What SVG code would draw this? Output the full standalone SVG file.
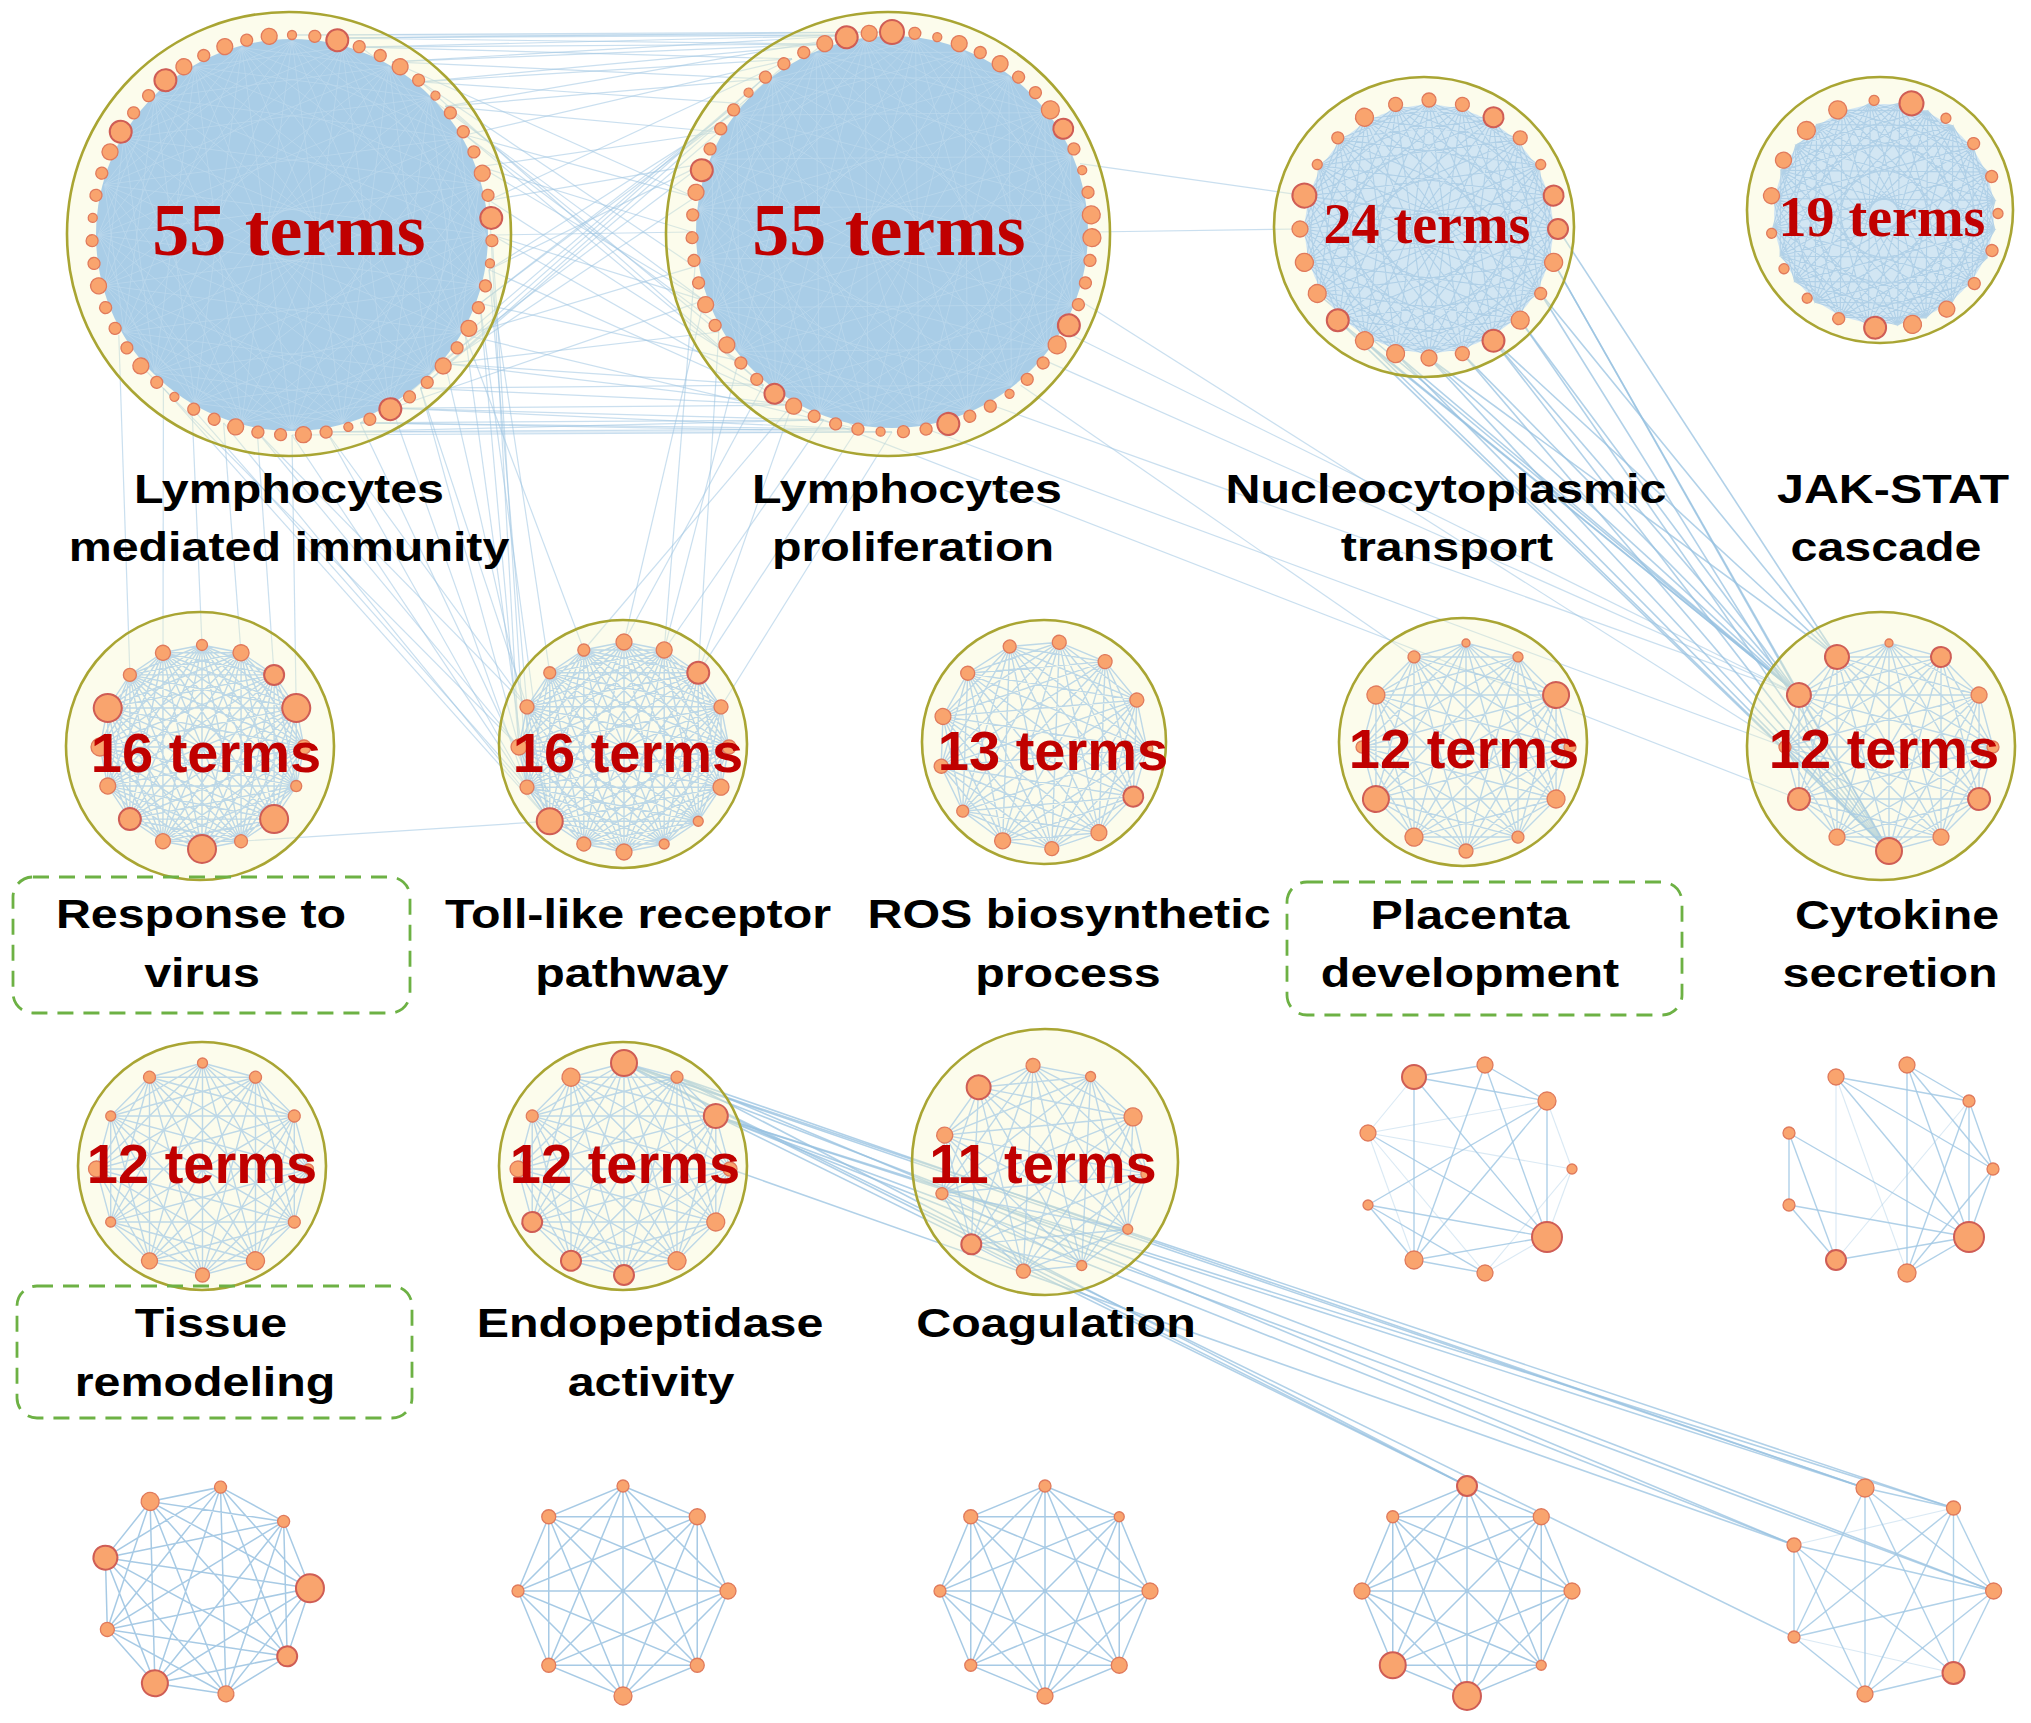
<svg xmlns="http://www.w3.org/2000/svg" xmlns:xlink="http://www.w3.org/1999/xlink" width="2031" height="1723" viewBox="0 0 2031 1723">
<style>
.enc{fill:#f7f7c8;fill-opacity:.35;stroke:#a9a533;stroke-width:2.6}
.ed{stroke:#a3c9e5;stroke-width:1.4;opacity:.7}
.edr{stroke:#92bedf;stroke-width:1.5;opacity:.8}
.mesh{stroke:#c9e1f1;stroke-width:.8;opacity:.55}
.mesh2{stroke:#a8cbe5;stroke-width:1.1;opacity:.8}
.n{fill:#f9a46e;stroke:#e07a5c;stroke-width:1.3}
.nb{fill:#f9a46e;stroke:#cf5d55;stroke-width:2}
.lbl{font-family:"Liberation Sans",Arial,sans-serif;font-weight:bold;font-size:41px;fill:#000;text-anchor:middle}
.tr{font-family:"Liberation Serif","Times New Roman",serif;font-weight:bold;fill:#c00000;text-anchor:middle}
.ta{font-family:"Liberation Sans",Arial,sans-serif;font-weight:bold;font-size:56px;fill:#c00000;text-anchor:middle}
.box{fill:none;stroke:#6db144;stroke-width:2.8;stroke-dasharray:16 10}
.c1 line{stroke:#9fc6e3;stroke-width:1.2;opacity:.55}
.c2 line{stroke:#98c2e1;stroke-width:1.6;opacity:.75}
.le line{stroke:#a3c9e5;stroke-width:1.4;opacity:.85}
.lf line{stroke:#a3c9e5;stroke-width:1.1;opacity:.4}
</style>
<defs>
<path id="k16" fill="none" vector-effect="non-scaling-stroke" d="M0,-100 L38.3,-92.4 L70.7,-70.7 L92.4,-38.3 L100,0 L92.4,38.3 L70.7,70.7 L38.3,92.4 L0,100 L-38.3,92.4 L-70.7,70.7 L-92.4,38.3 L-100,0 L-92.4,-38.3 L-70.7,-70.7 L-38.3,-92.4 Z M0,-100 L70.7,-70.7 L100,0 L70.7,70.7 L0,100 L-70.7,70.7 L-100,0 L-70.7,-70.7 Z M38.3,-92.4 L92.4,-38.3 L92.4,38.3 L38.3,92.4 L-38.3,92.4 L-92.4,38.3 L-92.4,-38.3 L-38.3,-92.4 Z M0,-100 L92.4,-38.3 L70.7,70.7 L-38.3,92.4 L-100,0 L-38.3,-92.4 L70.7,-70.7 L92.4,38.3 L0,100 L-92.4,38.3 L-70.7,-70.7 L38.3,-92.4 L100,0 L38.3,92.4 L-70.7,70.7 L-92.4,-38.3 Z M0,-100 L100,0 L0,100 L-100,0 Z M38.3,-92.4 L92.4,38.3 L-38.3,92.4 L-92.4,-38.3 Z M70.7,-70.7 L70.7,70.7 L-70.7,70.7 L-70.7,-70.7 Z M92.4,-38.3 L38.3,92.4 L-92.4,38.3 L-38.3,-92.4 Z M0,-100 L92.4,38.3 L-70.7,70.7 L-38.3,-92.4 L100,0 L-38.3,92.4 L-70.7,-70.7 L92.4,-38.3 L0,100 L-92.4,-38.3 L70.7,-70.7 L38.3,92.4 L-100,0 L38.3,-92.4 L70.7,70.7 L-92.4,38.3 Z M0,-100 L70.7,70.7 L-100,0 L70.7,-70.7 L0,100 L-70.7,-70.7 L100,0 L-70.7,70.7 Z M38.3,-92.4 L38.3,92.4 L-92.4,-38.3 L92.4,-38.3 L-38.3,92.4 L-38.3,-92.4 L92.4,38.3 L-92.4,38.3 Z M0,-100 L38.3,92.4 L-70.7,-70.7 L92.4,38.3 L-100,0 L92.4,-38.3 L-70.7,70.7 L38.3,-92.4 L0,100 L-38.3,-92.4 L70.7,70.7 L-92.4,-38.3 L100,0 L-92.4,38.3 L70.7,-70.7 L-38.3,92.4 Z M0,-100 L0,100 M38.3,-92.4 L-38.3,92.4 M70.7,-70.7 L-70.7,70.7 M92.4,-38.3 L-92.4,38.3 M100,0 L-100,0 M92.4,38.3 L-92.4,-38.3 M70.7,70.7 L-70.7,-70.7 M38.3,92.4 L-38.3,-92.4"/>
<path id="k13" fill="none" vector-effect="non-scaling-stroke" d="M0,-100 L46.5,-88.5 L82.3,-56.8 L99.3,-12.1 L93.5,35.5 L66.3,74.9 L23.9,97.1 L-23.9,97.1 L-66.3,74.9 L-93.5,35.5 L-99.3,-12.1 L-82.3,-56.8 L-46.5,-88.5 Z M0,-100 L82.3,-56.8 L93.5,35.5 L23.9,97.1 L-66.3,74.9 L-99.3,-12.1 L-46.5,-88.5 L46.5,-88.5 L99.3,-12.1 L66.3,74.9 L-23.9,97.1 L-93.5,35.5 L-82.3,-56.8 Z M0,-100 L99.3,-12.1 L23.9,97.1 L-93.5,35.5 L-46.5,-88.5 L82.3,-56.8 L66.3,74.9 L-66.3,74.9 L-82.3,-56.8 L46.5,-88.5 L93.5,35.5 L-23.9,97.1 L-99.3,-12.1 Z M0,-100 L93.5,35.5 L-66.3,74.9 L-46.5,-88.5 L99.3,-12.1 L-23.9,97.1 L-82.3,-56.8 L82.3,-56.8 L23.9,97.1 L-99.3,-12.1 L46.5,-88.5 L66.3,74.9 L-93.5,35.5 Z M0,-100 L66.3,74.9 L-99.3,-12.1 L82.3,-56.8 L-23.9,97.1 L-46.5,-88.5 L93.5,35.5 L-93.5,35.5 L46.5,-88.5 L23.9,97.1 L-82.3,-56.8 L99.3,-12.1 L-66.3,74.9 Z M0,-100 L23.9,97.1 L-46.5,-88.5 L66.3,74.9 L-82.3,-56.8 L93.5,35.5 L-99.3,-12.1 L99.3,-12.1 L-93.5,35.5 L82.3,-56.8 L-66.3,74.9 L46.5,-88.5 L-23.9,97.1 Z"/>
<path id="k12" fill="none" vector-effect="non-scaling-stroke" d="M0,-100 L50,-86.6 L86.6,-50 L100,0 L86.6,50 L50,86.6 L0,100 L-50,86.6 L-86.6,50 L-100,0 L-86.6,-50 L-50,-86.6 Z M0,-100 L86.6,-50 L86.6,50 L0,100 L-86.6,50 L-86.6,-50 Z M50,-86.6 L100,0 L50,86.6 L-50,86.6 L-100,0 L-50,-86.6 Z M0,-100 L100,0 L0,100 L-100,0 Z M50,-86.6 L86.6,50 L-50,86.6 L-86.6,-50 Z M86.6,-50 L50,86.6 L-86.6,50 L-50,-86.6 Z M0,-100 L86.6,50 L-86.6,50 Z M50,-86.6 L50,86.6 L-100,0 Z M86.6,-50 L0,100 L-86.6,-50 Z M100,0 L-50,86.6 L-50,-86.6 Z M0,-100 L50,86.6 L-86.6,-50 L100,0 L-86.6,50 L50,-86.6 L0,100 L-50,-86.6 L86.6,50 L-100,0 L86.6,-50 L-50,86.6 Z M0,-100 L0,100 M50,-86.6 L-50,86.6 M86.6,-50 L-86.6,50 M100,0 L-100,0 M86.6,50 L-86.6,-50 M50,86.6 L-50,-86.6"/>
<path id="k11" fill="none" vector-effect="non-scaling-stroke" d="M0,-100 L54.1,-84.1 L91,-41.5 L99,14.2 L75.6,65.5 L28.2,96 L-28.2,96 L-75.6,65.5 L-99,14.2 L-91,-41.5 L-54.1,-84.1 Z M0,-100 L91,-41.5 L75.6,65.5 L-28.2,96 L-99,14.2 L-54.1,-84.1 L54.1,-84.1 L99,14.2 L28.2,96 L-75.6,65.5 L-91,-41.5 Z M0,-100 L99,14.2 L-28.2,96 L-91,-41.5 L54.1,-84.1 L75.6,65.5 L-75.6,65.5 L-54.1,-84.1 L91,-41.5 L28.2,96 L-99,14.2 Z M0,-100 L75.6,65.5 L-99,14.2 L54.1,-84.1 L28.2,96 L-91,-41.5 L91,-41.5 L-28.2,96 L-54.1,-84.1 L99,14.2 L-75.6,65.5 Z M0,-100 L28.2,96 L-54.1,-84.1 L75.6,65.5 L-91,-41.5 L99,14.2 L-99,14.2 L91,-41.5 L-75.6,65.5 L54.1,-84.1 L-28.2,96 Z"/>
<path id="k9" fill="none" vector-effect="non-scaling-stroke" d="M0,-100 L64.3,-76.6 L98.5,-17.4 L86.6,50 L34.2,94 L-34.2,94 L-86.6,50 L-98.5,-17.4 L-64.3,-76.6 Z M0,-100 L98.5,-17.4 L34.2,94 L-86.6,50 L-64.3,-76.6 L64.3,-76.6 L86.6,50 L-34.2,94 L-98.5,-17.4 Z M0,-100 L86.6,50 L-86.6,50 Z M64.3,-76.6 L34.2,94 L-98.5,-17.4 Z M98.5,-17.4 L-34.2,94 L-64.3,-76.6 Z M0,-100 L34.2,94 L-64.3,-76.6 L86.6,50 L-98.5,-17.4 L98.5,-17.4 L-86.6,50 L64.3,-76.6 L-34.2,94 Z"/>
<path id="k8" fill="none" vector-effect="non-scaling-stroke" d="M0,-100 L70.7,-70.7 L100,0 L70.7,70.7 L0,100 L-70.7,70.7 L-100,0 L-70.7,-70.7 Z M0,-100 L100,0 L0,100 L-100,0 Z M70.7,-70.7 L70.7,70.7 L-70.7,70.7 L-70.7,-70.7 Z M0,-100 L70.7,70.7 L-100,0 L70.7,-70.7 L0,100 L-70.7,-70.7 L100,0 L-70.7,70.7 Z M0,-100 L0,100 M70.7,-70.7 L-70.7,70.7 M100,0 L-100,0 M70.7,70.7 L-70.7,-70.7"/>
<path id="m24" fill="none" vector-effect="non-scaling-stroke" d="M0,-100 L70.7,-70.7 L100,0 L70.7,70.7 L0,100 L-70.7,70.7 L-100,0 L-70.7,-70.7 Z M25.9,-96.6 L86.6,-50 L96.6,25.9 L50,86.6 L-25.9,96.6 L-86.6,50 L-96.6,-25.9 L-50,-86.6 Z M50,-86.6 L96.6,-25.9 L86.6,50 L25.9,96.6 L-50,86.6 L-96.6,25.9 L-86.6,-50 L-25.9,-96.6 Z M0,-100 L96.6,-25.9 L50,86.6 L-70.7,70.7 L-86.6,-50 L25.9,-96.6 L100,0 L25.9,96.6 L-86.6,50 L-70.7,-70.7 L50,-86.6 L96.6,25.9 L0,100 L-96.6,25.9 L-50,-86.6 L70.7,-70.7 L86.6,50 L-25.9,96.6 L-100,0 L-25.9,-96.6 L86.6,-50 L70.7,70.7 L-50,86.6 L-96.6,-25.9 Z M0,-100 L96.6,25.9 L-50,86.6 L-70.7,-70.7 L86.6,-50 L25.9,96.6 L-100,0 L25.9,-96.6 L86.6,50 L-70.7,70.7 L-50,-86.6 L96.6,-25.9 L0,100 L-96.6,-25.9 L50,-86.6 L70.7,70.7 L-86.6,50 L-25.9,-96.6 L100,0 L-25.9,96.6 L-86.6,-50 L70.7,-70.7 L50,86.6 L-96.6,25.9 Z M0,-100 L70.7,70.7 L-100,0 L70.7,-70.7 L0,100 L-70.7,-70.7 L100,0 L-70.7,70.7 Z M25.9,-96.6 L50,86.6 L-96.6,-25.9 L86.6,-50 L-25.9,96.6 L-50,-86.6 L96.6,25.9 L-86.6,50 Z M50,-86.6 L25.9,96.6 L-86.6,-50 L96.6,-25.9 L-50,86.6 L-25.9,-96.6 L86.6,50 L-96.6,25.9 Z M0,-100 L25.9,96.6 L-50,-86.6 L70.7,70.7 L-86.6,-50 L96.6,25.9 L-100,0 L96.6,-25.9 L-86.6,50 L70.7,-70.7 L-50,86.6 L25.9,-96.6 L0,100 L-25.9,-96.6 L50,86.6 L-70.7,-70.7 L86.6,50 L-96.6,-25.9 L100,0 L-96.6,25.9 L86.6,-50 L-70.7,70.7 L50,-86.6 L-25.9,96.6 Z"/>
</defs>
<rect width="2031" height="1723" fill="#ffffff"/>

<g id="connectors">
<g class="c1">
<line x1="292" y1="35" x2="892" y2="32"/><line x1="326.7" y1="38" x2="857.3" y2="35"/><line x1="326.7" y1="38" x2="823.6" y2="44.1"/><line x1="360.4" y1="47.1" x2="857.3" y2="35"/><line x1="360.4" y1="47.1" x2="792" y2="58.8"/><line x1="392" y1="61.8" x2="823.6" y2="44.1"/><line x1="392" y1="61.8" x2="763.4" y2="78.8"/><line x1="420.6" y1="81.8" x2="792" y2="58.8"/><line x1="292" y1="35" x2="857.3" y2="35"/><line x1="326.7" y1="38" x2="892" y2="32"/><line x1="360.4" y1="47.1" x2="823.6" y2="44.1"/><line x1="392" y1="61.8" x2="857.3" y2="35"/><line x1="420.6" y1="81.8" x2="823.6" y2="44.1"/><line x1="445.2" y1="106.4" x2="763.4" y2="78.8"/><line x1="420.6" y1="81.8" x2="738.8" y2="103.4"/>
<line x1="445.2" y1="106.4" x2="718.8" y2="132"/><line x1="465.2" y1="135" x2="695" y2="197.3"/><line x1="479.9" y1="166.6" x2="704.1" y2="300.4"/><line x1="489" y1="200.3" x2="738.8" y2="360.6"/><line x1="492" y1="235" x2="692" y2="232"/><line x1="489" y1="269.7" x2="704.1" y2="163.6"/><line x1="479.9" y1="303.4" x2="738.8" y2="103.4"/><line x1="465.2" y1="335" x2="695" y2="266.7"/><line x1="445.2" y1="363.6" x2="718.8" y2="332"/><line x1="420.6" y1="388.2" x2="718.8" y2="132"/><line x1="465.2" y1="135" x2="763.4" y2="385.2"/><line x1="445.2" y1="106.4" x2="718.8" y2="332"/><line x1="420.6" y1="81.8" x2="695" y2="266.7"/><line x1="392" y1="61.8" x2="695" y2="197.3"/><line x1="465.2" y1="335" x2="763.4" y2="78.8"/><line x1="479.9" y1="303.4" x2="823.6" y2="44.1"/><line x1="489" y1="269.7" x2="823.6" y2="419.9"/><line x1="492" y1="235" x2="792" y2="405.2"/><line x1="489" y1="200.3" x2="792" y2="58.8"/><line x1="479.9" y1="166.6" x2="718.8" y2="132"/><line x1="445.2" y1="363.6" x2="695" y2="197.3"/><line x1="392" y1="408.2" x2="704.1" y2="300.4"/><line x1="360.4" y1="422.9" x2="704.1" y2="163.6"/><line x1="360.4" y1="47.1" x2="704.1" y2="300.4"/><line x1="420.6" y1="388.2" x2="792" y2="58.8"/><line x1="489" y1="269.7" x2="857.3" y2="35"/><line x1="465.2" y1="135" x2="857.3" y2="429"/><line x1="420.6" y1="81.8" x2="763.4" y2="385.2"/><line x1="392" y1="408.2" x2="763.4" y2="78.8"/><line x1="479.9" y1="166.6" x2="692" y2="232"/><line x1="489" y1="200.3" x2="704.1" y2="163.6"/><line x1="492" y1="235" x2="704.1" y2="300.4"/><line x1="479.9" y1="303.4" x2="738.8" y2="360.6"/><line x1="445.2" y1="363.6" x2="792" y2="405.2"/><line x1="465.2" y1="135" x2="792" y2="58.8"/><line x1="445.2" y1="106.4" x2="857.3" y2="35"/><line x1="465.2" y1="335" x2="857.3" y2="429"/>
<line x1="326.7" y1="432" x2="857.3" y2="429"/><line x1="360.4" y1="422.9" x2="823.6" y2="419.9"/><line x1="392" y1="408.2" x2="857.3" y2="429"/><line x1="326.7" y1="432" x2="823.6" y2="419.9"/><line x1="420.6" y1="388.2" x2="792" y2="405.2"/><line x1="360.4" y1="422.9" x2="892" y2="432"/><line x1="392" y1="408.2" x2="792" y2="405.2"/><line x1="292" y1="435" x2="892" y2="432"/><line x1="326.7" y1="432" x2="892" y2="432"/><line x1="360.4" y1="422.9" x2="857.3" y2="429"/><line x1="420.6" y1="388.2" x2="763.4" y2="385.2"/><line x1="445.2" y1="363.6" x2="763.4" y2="385.2"/><line x1="392" y1="408.2" x2="823.6" y2="419.9"/>
<line x1="489" y1="269.7" x2="527" y2="706.8"/><line x1="479.9" y1="303.4" x2="519" y2="747"/><line x1="465.2" y1="335" x2="527" y2="787"/><line x1="445.2" y1="363.6" x2="549.8" y2="821.2"/><line x1="420.6" y1="388.2" x2="519" y2="747"/><line x1="392" y1="408.2" x2="527" y2="787"/><line x1="360.4" y1="422.9" x2="549.8" y2="821.2"/><line x1="326.7" y1="432" x2="527" y2="706.8"/><line x1="292" y1="435" x2="549.8" y2="821.2"/><line x1="257.3" y1="432" x2="519" y2="747"/><line x1="223.6" y1="422.9" x2="549.8" y2="821.2"/><line x1="192" y1="408.2" x2="527" y2="787"/><line x1="163.4" y1="388.2" x2="549.8" y2="821.2"/><line x1="138.8" y1="363.6" x2="519" y2="747"/><line x1="479.9" y1="303.4" x2="549.8" y2="821.2"/><line x1="492" y1="235" x2="527" y2="787"/><line x1="489" y1="200.3" x2="519" y2="747"/><line x1="489" y1="269.7" x2="549.8" y2="672.8"/><line x1="465.2" y1="335" x2="583.8" y2="650"/><line x1="420.6" y1="388.2" x2="527" y2="706.8"/><line x1="326.7" y1="432" x2="527" y2="787"/><line x1="257.3" y1="432" x2="527" y2="706.8"/>
<line x1="823.6" y1="419.9" x2="664.2" y2="650"/><line x1="792" y1="405.2" x2="698.2" y2="672.8"/><line x1="763.4" y1="385.2" x2="624" y2="642"/><line x1="738.8" y1="360.6" x2="664.2" y2="650"/><line x1="718.8" y1="332" x2="698.2" y2="672.8"/><line x1="704.1" y1="300.4" x2="624" y2="642"/><line x1="857.3" y1="429" x2="698.2" y2="672.8"/><line x1="792" y1="405.2" x2="583.8" y2="650"/><line x1="695" y1="266.7" x2="664.2" y2="650"/><line x1="892" y1="432" x2="721" y2="706.8"/>
<line x1="192" y1="408.2" x2="202" y2="645"/><line x1="257.3" y1="432" x2="274.1" y2="674.9"/><line x1="163.4" y1="388.2" x2="163" y2="652.8"/><line x1="292" y1="435" x2="296.2" y2="708"/><line x1="223.6" y1="422.9" x2="241" y2="652.8"/><line x1="118.8" y1="335" x2="129.9" y2="674.9"/>
<line x1="241" y1="841.2" x2="549.8" y2="821.2"/>
<line x1="1065.2" y1="332" x2="1799" y2="695"/><line x1="1080" y1="300.4" x2="1785" y2="747"/><line x1="1045.2" y1="360.6" x2="1799" y2="695"/><line x1="992" y1="405.2" x2="1799" y2="695"/><line x1="823.6" y1="419.9" x2="1799" y2="799"/><line x1="926.7" y1="429" x2="1785" y2="747"/><line x1="1020.6" y1="385.2" x2="1414" y2="657"/>
<line x1="1080" y1="163.6" x2="1304.4" y2="195.6"/><line x1="1092" y1="232" x2="1300" y2="229"/>
</g>
<g class="c2">
<line x1="1553.6" y1="262.4" x2="1889" y2="851"/><line x1="1540.7" y1="293.5" x2="1889" y2="851"/><line x1="1520.2" y1="320.2" x2="1889" y2="851"/><line x1="1493.5" y1="340.7" x2="1889" y2="851"/><line x1="1462.4" y1="353.6" x2="1889" y2="851"/><line x1="1429" y1="358" x2="1889" y2="851"/><line x1="1395.6" y1="353.6" x2="1889" y2="851"/><line x1="1364.5" y1="340.7" x2="1889" y2="851"/><line x1="1337.8" y1="320.2" x2="1889" y2="851"/>
<line x1="1553.6" y1="262.4" x2="1799" y2="695"/><line x1="1520.2" y1="320.2" x2="1799" y2="695"/><line x1="1493.5" y1="340.7" x2="1799" y2="695"/><line x1="1462.4" y1="353.6" x2="1799" y2="695"/><line x1="1429" y1="358" x2="1799" y2="695"/><line x1="1395.6" y1="353.6" x2="1799" y2="695"/><line x1="1364.5" y1="340.7" x2="1799" y2="695"/><line x1="1337.8" y1="320.2" x2="1799" y2="695"/><line x1="1317.3" y1="293.5" x2="1799" y2="695"/>
<line x1="1540.7" y1="293.5" x2="1837" y2="657"/><line x1="1493.5" y1="340.7" x2="1837" y2="657"/><line x1="1429" y1="358" x2="1837" y2="657"/><line x1="1558" y1="229" x2="1837" y2="657"/>
<line x1="624" y1="1063" x2="1467" y2="1486"/><line x1="624" y1="1063" x2="1865" y2="1488"/><line x1="624" y1="1063" x2="1953.5" y2="1508"/><line x1="624" y1="1063" x2="1794" y2="1637"/><line x1="624" y1="1063" x2="1993.6" y2="1591"/><line x1="716" y1="1116" x2="1467" y2="1486"/><line x1="716" y1="1116" x2="1865" y2="1488"/><line x1="716" y1="1116" x2="1953.5" y2="1508"/><line x1="716" y1="1116" x2="1794" y2="1545"/><line x1="716" y1="1116" x2="1993.6" y2="1591"/><line x1="677" y1="1077" x2="1865" y2="1488"/><line x1="677" y1="1077" x2="1794" y2="1545"/><line x1="677" y1="1077" x2="1467" y2="1486"/><line x1="730" y1="1169" x2="1794" y2="1545"/>
</g>
</g>

<g id="cluster-lymphocytes-immunity">
<circle class="enc" cx="289" cy="234" r="222"/>
<circle cx="292" cy="235" r="196" fill="#a9cde7"/>
<use href="#m24" class="mesh" transform="translate(292,235) scale(1.94)"/>
<g transform="translate(292,235)">
<circle class="n" cy="-200" r="4.5"/><circle class="n" cy="-200" r="6" transform="rotate(6.55)"/><circle class="nb" cy="-200" r="11" transform="rotate(13.09)"/><circle class="n" cy="-200" r="6" transform="rotate(19.64)"/><circle class="n" cy="-200" r="6" transform="rotate(26.18)"/><circle class="n" cy="-200" r="8" transform="rotate(32.73)"/><circle class="n" cy="-200" r="6" transform="rotate(39.27)"/><circle class="n" cy="-200" r="4.5" transform="rotate(45.82)"/><circle class="n" cy="-200" r="6" transform="rotate(52.36)"/><circle class="n" cy="-200" r="6" transform="rotate(58.91)"/><circle class="n" cy="-200" r="6" transform="rotate(65.45)"/><circle class="n" cy="-200" r="8" transform="rotate(72)"/><circle class="n" cy="-200" r="6" transform="rotate(78.55)"/><circle class="nb" cy="-200" r="11" transform="rotate(85.09)"/><circle class="n" cy="-200" r="6" transform="rotate(91.64)"/><circle class="n" cy="-200" r="4.5" transform="rotate(98.18)"/><circle class="n" cy="-200" r="6" transform="rotate(104.73)"/><circle class="n" cy="-200" r="6" transform="rotate(111.27)"/><circle class="n" cy="-200" r="8" transform="rotate(117.82)"/><circle class="n" cy="-200" r="6" transform="rotate(124.36)"/><circle class="n" cy="-200" r="8" transform="rotate(130.91)"/><circle class="n" cy="-200" r="6" transform="rotate(137.45)"/><circle class="n" cy="-200" r="6" transform="rotate(144)"/><circle class="nb" cy="-200" r="11" transform="rotate(150.55)"/><circle class="n" cy="-200" r="6" transform="rotate(157.09)"/><circle class="n" cy="-200" r="4.5" transform="rotate(163.64)"/><circle class="n" cy="-200" r="6" transform="rotate(170.18)"/><circle class="n" cy="-200" r="8" transform="rotate(176.73)"/><circle class="n" cy="-200" r="6" transform="rotate(183.27)"/><circle class="n" cy="-200" r="6" transform="rotate(189.82)"/><circle class="n" cy="-200" r="8" transform="rotate(196.36)"/><circle class="n" cy="-200" r="6" transform="rotate(202.91)"/><circle class="n" cy="-200" r="6" transform="rotate(209.45)"/><circle class="n" cy="-200" r="4.5" transform="rotate(216)"/><circle class="n" cy="-200" r="6" transform="rotate(222.55)"/><circle class="n" cy="-200" r="8" transform="rotate(229.09)"/><circle class="n" cy="-200" r="6" transform="rotate(235.64)"/><circle class="n" cy="-200" r="6" transform="rotate(242.18)"/><circle class="n" cy="-200" r="6" transform="rotate(248.73)"/><circle class="n" cy="-200" r="8" transform="rotate(255.27)"/><circle class="n" cy="-200" r="6" transform="rotate(261.82)"/><circle class="n" cy="-200" r="6" transform="rotate(268.36)"/><circle class="n" cy="-200" r="4.5" transform="rotate(274.91)"/><circle class="n" cy="-200" r="6" transform="rotate(281.45)"/><circle class="n" cy="-200" r="6" transform="rotate(288)"/><circle class="n" cy="-200" r="8" transform="rotate(294.55)"/><circle class="nb" cy="-200" r="11" transform="rotate(301.09)"/><circle class="n" cy="-200" r="6" transform="rotate(307.64)"/><circle class="n" cy="-200" r="6" transform="rotate(314.18)"/><circle class="nb" cy="-200" r="11" transform="rotate(320.73)"/><circle class="n" cy="-200" r="8" transform="rotate(327.27)"/><circle class="n" cy="-200" r="6" transform="rotate(333.82)"/><circle class="n" cy="-200" r="8" transform="rotate(340.36)"/><circle class="n" cy="-200" r="6" transform="rotate(346.91)"/><circle class="n" cy="-200" r="8" transform="rotate(353.45)"/>
</g>
<text class="tr" x="289" y="255" font-size="74">55 terms</text>
<text class="lbl" transform="translate(289,503) scale(1.18,1)">Lymphocytes</text>
<text class="lbl" transform="translate(289,561) scale(1.18,1)">mediated immunity</text>
</g>

<g id="cluster-lymphocytes-proliferation">
<circle class="enc" cx="888" cy="234" r="222"/>
<circle cx="892" cy="232" r="196" fill="#a9cde7"/>
<use href="#m24" class="mesh" transform="translate(892,232) scale(1.94) rotate(7)"/>
<g transform="translate(892,232)">
<circle class="nb" cy="-200" r="12"/><circle class="n" cy="-200" r="6" transform="rotate(6.55)"/><circle class="n" cy="-200" r="4.5" transform="rotate(13.09)"/><circle class="n" cy="-200" r="8" transform="rotate(19.64)"/><circle class="n" cy="-200" r="6" transform="rotate(26.18)"/><circle class="n" cy="-200" r="8" transform="rotate(32.73)"/><circle class="n" cy="-200" r="6" transform="rotate(39.27)"/><circle class="n" cy="-200" r="6" transform="rotate(45.82)"/><circle class="n" cy="-200" r="9" transform="rotate(52.36)"/><circle class="nb" cy="-200" r="10" transform="rotate(58.91)"/><circle class="n" cy="-200" r="6" transform="rotate(65.45)"/><circle class="n" cy="-200" r="4.5" transform="rotate(72)"/><circle class="n" cy="-200" r="6" transform="rotate(78.55)"/><circle class="n" cy="-200" r="9" transform="rotate(85.09)"/><circle class="n" cy="-200" r="9" transform="rotate(91.64)"/><circle class="n" cy="-200" r="6" transform="rotate(98.18)"/><circle class="n" cy="-200" r="6" transform="rotate(104.73)"/><circle class="n" cy="-200" r="6" transform="rotate(111.27)"/><circle class="nb" cy="-200" r="11" transform="rotate(117.82)"/><circle class="n" cy="-200" r="9" transform="rotate(124.36)"/><circle class="n" cy="-200" r="6" transform="rotate(130.91)"/><circle class="n" cy="-200" r="6" transform="rotate(137.45)"/><circle class="n" cy="-200" r="4.5" transform="rotate(144)"/><circle class="n" cy="-200" r="6" transform="rotate(150.55)"/><circle class="n" cy="-200" r="6" transform="rotate(157.09)"/><circle class="nb" cy="-200" r="11" transform="rotate(163.64)"/><circle class="n" cy="-200" r="6" transform="rotate(170.18)"/><circle class="n" cy="-200" r="6" transform="rotate(176.73)"/><circle class="n" cy="-200" r="4.5" transform="rotate(183.27)"/><circle class="n" cy="-200" r="6" transform="rotate(189.82)"/><circle class="n" cy="-200" r="6" transform="rotate(196.36)"/><circle class="n" cy="-200" r="6" transform="rotate(202.91)"/><circle class="n" cy="-200" r="8" transform="rotate(209.45)"/><circle class="nb" cy="-200" r="10" transform="rotate(216)"/><circle class="n" cy="-200" r="6" transform="rotate(222.55)"/><circle class="n" cy="-200" r="6" transform="rotate(229.09)"/><circle class="n" cy="-200" r="8" transform="rotate(235.64)"/><circle class="n" cy="-200" r="6" transform="rotate(242.18)"/><circle class="n" cy="-200" r="8" transform="rotate(248.73)"/><circle class="n" cy="-200" r="6" transform="rotate(255.27)"/><circle class="n" cy="-200" r="6" transform="rotate(261.82)"/><circle class="n" cy="-200" r="6" transform="rotate(268.36)"/><circle class="n" cy="-200" r="6" transform="rotate(274.91)"/><circle class="n" cy="-200" r="8" transform="rotate(281.45)"/><circle class="nb" cy="-200" r="11" transform="rotate(288)"/><circle class="n" cy="-200" r="6" transform="rotate(294.55)"/><circle class="n" cy="-200" r="6" transform="rotate(301.09)"/><circle class="n" cy="-200" r="6" transform="rotate(307.64)"/><circle class="n" cy="-200" r="4.5" transform="rotate(314.18)"/><circle class="n" cy="-200" r="6" transform="rotate(320.73)"/><circle class="n" cy="-200" r="6" transform="rotate(327.27)"/><circle class="n" cy="-200" r="6" transform="rotate(333.82)"/><circle class="n" cy="-200" r="8" transform="rotate(340.36)"/><circle class="nb" cy="-200" r="11" transform="rotate(346.91)"/><circle class="n" cy="-200" r="8" transform="rotate(353.45)"/>
</g>
<text class="tr" x="889" y="255" font-size="74">55 terms</text>
<text class="lbl" transform="translate(907,503) scale(1.18,1)">Lymphocytes</text>
<text class="lbl" transform="translate(913,561) scale(1.18,1)">proliferation</text>
</g>

<g id="cluster-nucleocytoplasmic-transport">
<circle class="enc" cx="1424" cy="227" r="150"/>
<circle cx="1429" cy="229" r="124" fill="#d2e6f3"/>
<use href="#m24" class="mesh2" transform="translate(1429,229) scale(1.27)"/>
<g transform="translate(1429,229)">
<circle class="n" cy="-129" r="7"/><circle class="n" cy="-129" r="7" transform="rotate(15)"/><circle class="nb" cy="-129" r="10" transform="rotate(30)"/><circle class="n" cy="-129" r="7" transform="rotate(45)"/><circle class="n" cy="-129" r="5" transform="rotate(60)"/><circle class="nb" cy="-129" r="10" transform="rotate(75)"/><circle class="nb" cy="-129" r="10" transform="rotate(90)"/><circle class="n" cy="-129" r="9" transform="rotate(105)"/><circle class="n" cy="-129" r="6" transform="rotate(120)"/><circle class="n" cy="-129" r="9" transform="rotate(135)"/><circle class="nb" cy="-129" r="11" transform="rotate(150)"/><circle class="n" cy="-129" r="7" transform="rotate(165)"/><circle class="n" cy="-129" r="8" transform="rotate(180)"/><circle class="n" cy="-129" r="9" transform="rotate(195)"/><circle class="n" cy="-129" r="9" transform="rotate(210)"/><circle class="nb" cy="-129" r="11" transform="rotate(225)"/><circle class="n" cy="-129" r="9" transform="rotate(240)"/><circle class="n" cy="-129" r="9" transform="rotate(255)"/><circle class="n" cy="-129" r="8" transform="rotate(270)"/><circle class="nb" cy="-129" r="12" transform="rotate(285)"/><circle class="n" cy="-129" r="5" transform="rotate(300)"/><circle class="n" cy="-129" r="6" transform="rotate(315)"/><circle class="n" cy="-129" r="9" transform="rotate(330)"/><circle class="n" cy="-129" r="7" transform="rotate(345)"/>
</g>
<text class="tr" x="1427" y="243" font-size="56">24 terms</text>
<text class="lbl" transform="translate(1446,503) scale(1.18,1)">Nucleocytoplasmic</text>
<text class="lbl" transform="translate(1447,561) scale(1.18,1)">transport</text>
</g>

<g id="cluster-jak-stat">
<circle class="enc" cx="1880" cy="210" r="133"/>
<circle cx="1884" cy="214" r="110" fill="#d2e6f3"/>
<use href="#m24" class="mesh2" transform="translate(1884,214) scale(1.12) rotate(8)"/>
<g transform="translate(1884,214) rotate(-5)">
<circle class="n" cy="-114" r="5"/><circle class="nb" cy="-114" r="12" transform="rotate(18.95)"/><circle class="n" cy="-114" r="5" transform="rotate(37.89)"/><circle class="n" cy="-114" r="6" transform="rotate(56.84)"/><circle class="n" cy="-114" r="6" transform="rotate(75.79)"/><circle class="n" cy="-114" r="5" transform="rotate(94.74)"/><circle class="n" cy="-114" r="6" transform="rotate(113.68)"/><circle class="n" cy="-114" r="6" transform="rotate(132.63)"/><circle class="n" cy="-114" r="8" transform="rotate(151.58)"/><circle class="n" cy="-114" r="9" transform="rotate(170.53)"/><circle class="nb" cy="-114" r="11" transform="rotate(189.47)"/><circle class="n" cy="-114" r="6" transform="rotate(208.42)"/><circle class="n" cy="-114" r="5" transform="rotate(227.37)"/><circle class="n" cy="-114" r="5" transform="rotate(246.32)"/><circle class="n" cy="-114" r="5" transform="rotate(265.26)"/><circle class="n" cy="-114" r="8" transform="rotate(284.21)"/><circle class="n" cy="-114" r="8" transform="rotate(303.16)"/><circle class="n" cy="-114" r="9" transform="rotate(322.11)"/><circle class="n" cy="-114" r="9" transform="rotate(341.05)"/>
</g>
<text class="tr" x="1882" y="236" font-size="56">19 terms</text>
<text class="lbl" transform="translate(1893,503) scale(1.18,1)">JAK-STAT</text>
<text class="lbl" transform="translate(1886,561) scale(1.18,1)">cascade</text>
</g>

<g id="cluster-response-to-virus">
<circle class="enc" cx="200" cy="746" r="134"/>
<g transform="translate(202,747)">
<use href="#k16" class="ed" transform="scale(1.02)"/>
<circle class="n" cy="-102" r="5.5"/><circle class="n" cy="-102" r="8" transform="rotate(22.5)"/><circle class="nb" cy="-102" r="10" transform="rotate(45)"/><circle class="nb" cy="-102" r="14" transform="rotate(67.5)"/><circle class="n" cy="-102" r="7" transform="rotate(90)"/><circle class="n" cy="-102" r="5.5" transform="rotate(112.5)"/><circle class="nb" cy="-102" r="14" transform="rotate(135)"/><circle class="n" cy="-102" r="6.5" transform="rotate(157.5)"/><circle class="nb" cy="-102" r="14" transform="rotate(180)"/><circle class="n" cy="-102" r="7.5" transform="rotate(202.5)"/><circle class="nb" cy="-102" r="11" transform="rotate(225)"/><circle class="n" cy="-102" r="8" transform="rotate(247.5)"/><circle class="n" cy="-102" r="9" transform="rotate(270)"/><circle class="nb" cy="-102" r="14" transform="rotate(292.5)"/><circle class="n" cy="-102" r="6.5" transform="rotate(315)"/><circle class="n" cy="-102" r="7.5" transform="rotate(337.5)"/>
</g>
<text class="ta" x="206" y="772">16 terms</text>
<rect class="box" x="13" y="877" width="397" height="136" rx="20"/>
<text class="lbl" transform="translate(201,928) scale(1.18,1)">Response to</text>
<text class="lbl" transform="translate(202,987) scale(1.18,1)">virus</text>
</g>

<g id="cluster-toll-like-receptor">
<circle class="enc" cx="623" cy="744" r="124"/>
<g transform="translate(624,747)">
<use href="#k16" class="ed" transform="scale(1.05)"/>
<circle class="n" cy="-105" r="8"/><circle class="n" cy="-105" r="8" transform="rotate(22.5)"/><circle class="nb" cy="-105" r="11" transform="rotate(45)"/><circle class="n" cy="-105" r="7" transform="rotate(67.5)"/><circle class="n" cy="-105" r="7" transform="rotate(90)"/><circle class="n" cy="-105" r="8" transform="rotate(112.5)"/><circle class="n" cy="-105" r="5" transform="rotate(135)"/><circle class="n" cy="-105" r="5" transform="rotate(157.5)"/><circle class="n" cy="-105" r="8" transform="rotate(180)"/><circle class="n" cy="-105" r="7" transform="rotate(202.5)"/><circle class="nb" cy="-105" r="13" transform="rotate(225)"/><circle class="n" cy="-105" r="7" transform="rotate(247.5)"/><circle class="n" cy="-105" r="8" transform="rotate(270)"/><circle class="n" cy="-105" r="7" transform="rotate(292.5)"/><circle class="n" cy="-105" r="6" transform="rotate(315)"/><circle class="n" cy="-105" r="6" transform="rotate(337.5)"/>
</g>
<text class="ta" x="628" y="772">16 terms</text>
<text class="lbl" transform="translate(638,928) scale(1.18,1)">Toll-like receptor</text>
<text class="lbl" transform="translate(632,987) scale(1.18,1)">pathway</text>
</g>

<g id="cluster-ros-biosynthetic">
<circle class="enc" cx="1044" cy="742" r="122"/>
<g transform="translate(1043,745) rotate(9)">
<use href="#k13" class="ed" transform="scale(1.04)"/>
<circle class="n" cy="-104" r="7"/><circle class="n" cy="-104" r="7" transform="rotate(27.69)"/><circle class="n" cy="-104" r="7" transform="rotate(55.38)"/><circle class="n" cy="-104" r="6" transform="rotate(83.08)"/><circle class="nb" cy="-104" r="10" transform="rotate(110.77)"/><circle class="n" cy="-104" r="8" transform="rotate(138.46)"/><circle class="n" cy="-104" r="7" transform="rotate(166.15)"/><circle class="n" cy="-104" r="8" transform="rotate(193.85)"/><circle class="n" cy="-104" r="6" transform="rotate(221.54)"/><circle class="n" cy="-104" r="7" transform="rotate(249.23)"/><circle class="n" cy="-104" r="8" transform="rotate(276.92)"/><circle class="n" cy="-104" r="7" transform="rotate(304.62)"/><circle class="n" cy="-104" r="6.5" transform="rotate(332.31)"/>
</g>
<text class="ta" x="1053" y="770">13 terms</text>
<text class="lbl" transform="translate(1069,928) scale(1.18,1)">ROS biosynthetic</text>
<text class="lbl" transform="translate(1068,987) scale(1.18,1)">process</text>
</g>

<g id="cluster-placenta-development">
<circle class="enc" cx="1463" cy="742" r="124"/>
<g transform="translate(1466,747)">
<use href="#k12" class="ed" transform="scale(1.04)"/>
<circle class="n" cy="-104" r="4"/><circle class="n" cy="-104" r="5" transform="rotate(30)"/><circle class="nb" cy="-104" r="13" transform="rotate(60)"/><circle class="n" cy="-104" r="6" transform="rotate(90)"/><circle class="n" cy="-104" r="9" transform="rotate(120)"/><circle class="n" cy="-104" r="6" transform="rotate(150)"/><circle class="n" cy="-104" r="7" transform="rotate(180)"/><circle class="n" cy="-104" r="9" transform="rotate(210)"/><circle class="nb" cy="-104" r="13" transform="rotate(240)"/><circle class="n" cy="-104" r="6" transform="rotate(270)"/><circle class="n" cy="-104" r="9" transform="rotate(300)"/><circle class="n" cy="-104" r="6" transform="rotate(330)"/>
</g>
<text class="ta" x="1464" y="768">12 terms</text>
<rect class="box" x="1287" y="882" width="395" height="133" rx="20"/>
<text class="lbl" transform="translate(1470,929) scale(1.18,1)">Placenta</text>
<text class="lbl" transform="translate(1470,987) scale(1.18,1)">development</text>
</g>

<g id="cluster-cytokine-secretion">
<circle class="enc" cx="1881" cy="746" r="134"/>
<g transform="translate(1889,747)">
<use href="#k12" class="ed" transform="scale(1.04)"/>
<circle class="n" cy="-104" r="4"/><circle class="nb" cy="-104" r="10" transform="rotate(30)"/><circle class="n" cy="-104" r="8" transform="rotate(60)"/><circle class="n" cy="-104" r="6" transform="rotate(90)"/><circle class="nb" cy="-104" r="11" transform="rotate(120)"/><circle class="n" cy="-104" r="8" transform="rotate(150)"/><circle class="nb" cy="-104" r="13" transform="rotate(180)"/><circle class="n" cy="-104" r="8" transform="rotate(210)"/><circle class="nb" cy="-104" r="11" transform="rotate(240)"/><circle class="n" cy="-104" r="6" transform="rotate(270)"/><circle class="nb" cy="-104" r="12" transform="rotate(300)"/><circle class="nb" cy="-104" r="12" transform="rotate(330)"/>
</g>
<text class="ta" x="1884" y="768">12 terms</text>
<text class="lbl" transform="translate(1897,929) scale(1.18,1)">Cytokine</text>
<text class="lbl" transform="translate(1890,987) scale(1.18,1)">secretion</text>
</g>

<g id="cluster-tissue-remodeling">
<circle class="enc" cx="202" cy="1166" r="124"/>
<g transform="translate(202.5,1169)">
<use href="#k12" class="ed" transform="scale(1.06)"/>
<circle class="n" cy="-106" r="5"/><circle class="n" cy="-106" r="6" transform="rotate(30)"/><circle class="n" cy="-106" r="6" transform="rotate(60)"/><circle class="n" cy="-106" r="5" transform="rotate(90)"/><circle class="n" cy="-106" r="6" transform="rotate(120)"/><circle class="n" cy="-106" r="9" transform="rotate(150)"/><circle class="n" cy="-106" r="7" transform="rotate(180)"/><circle class="n" cy="-106" r="8" transform="rotate(210)"/><circle class="n" cy="-106" r="5" transform="rotate(240)"/><circle class="n" cy="-106" r="8" transform="rotate(270)"/><circle class="n" cy="-106" r="5" transform="rotate(300)"/><circle class="n" cy="-106" r="6" transform="rotate(330)"/>
</g>
<text class="ta" x="202" y="1183">12 terms</text>
<rect class="box" x="17" y="1286" width="395" height="132" rx="20"/>
<text class="lbl" transform="translate(211,1337) scale(1.18,1)">Tissue</text>
<text class="lbl" transform="translate(205,1396) scale(1.18,1)">remodeling</text>
</g>

<g id="cluster-endopeptidase-activity">
<circle class="enc" cx="623" cy="1166" r="124"/>
<g transform="translate(624,1169)">
<use href="#k12" class="ed" transform="scale(1.06)"/>
<circle class="nb" cy="-106" r="13"/><circle class="n" cy="-106" r="6" transform="rotate(30)"/><circle class="nb" cy="-106" r="12" transform="rotate(60)"/><circle class="n" cy="-106" r="7" transform="rotate(90)"/><circle class="n" cy="-106" r="9" transform="rotate(120)"/><circle class="n" cy="-106" r="9" transform="rotate(150)"/><circle class="nb" cy="-106" r="10" transform="rotate(180)"/><circle class="nb" cy="-106" r="10" transform="rotate(210)"/><circle class="nb" cy="-106" r="10" transform="rotate(240)"/><circle class="n" cy="-106" r="8" transform="rotate(270)"/><circle class="n" cy="-106" r="6" transform="rotate(300)"/><circle class="n" cy="-106" r="9" transform="rotate(330)"/>
</g>
<text class="ta" x="625" y="1183">12 terms</text>
<text class="lbl" transform="translate(650,1337) scale(1.18,1)">Endopeptidase</text>
<text class="lbl" transform="translate(651,1396) scale(1.18,1)">activity</text>
</g>

<g id="cluster-coagulation">
<circle class="enc" cx="1045" cy="1162" r="133"/>
<g transform="translate(1043,1169) rotate(-5.5)">
<use href="#k11" class="ed" transform="scale(1.04)"/>
<circle class="n" cy="-104" r="7"/><circle class="n" cy="-104" r="5" transform="rotate(32.73)"/><circle class="n" cy="-104" r="9" transform="rotate(65.45)"/><circle class="n" cy="-104" r="6" transform="rotate(98.18)"/><circle class="n" cy="-104" r="5" transform="rotate(130.91)"/><circle class="n" cy="-104" r="5" transform="rotate(163.64)"/><circle class="n" cy="-104" r="7" transform="rotate(196.36)"/><circle class="nb" cy="-104" r="10" transform="rotate(229.09)"/><circle class="n" cy="-104" r="6" transform="rotate(261.82)"/><circle class="n" cy="-104" r="8" transform="rotate(294.55)"/><circle class="nb" cy="-104" r="12" transform="rotate(327.27)"/>
</g>
<text class="ta" x="1043" y="1183">11 terms</text>
<text class="lbl" transform="translate(1056,1337) scale(1.18,1)">Coagulation</text>
</g>

<g id="cluster-row3-a">
<g class="le">
<line x1="1414" y1="1077" x2="1485" y2="1065"/><line x1="1414" y1="1077" x2="1547" y2="1101"/><line x1="1414" y1="1077" x2="1414" y2="1260"/><line x1="1414" y1="1077" x2="1547" y2="1237"/><line x1="1485" y1="1065" x2="1547" y2="1101"/><line x1="1485" y1="1065" x2="1414" y2="1260"/><line x1="1485" y1="1065" x2="1547" y2="1237"/><line x1="1547" y1="1101" x2="1547" y2="1237"/><line x1="1547" y1="1101" x2="1414" y2="1260"/><line x1="1547" y1="1101" x2="1368" y2="1205"/><line x1="1368" y1="1133" x2="1547" y2="1237"/><line x1="1368" y1="1205" x2="1414" y2="1260"/><line x1="1368" y1="1205" x2="1547" y2="1237"/><line x1="1368" y1="1205" x2="1485" y2="1273"/><line x1="1414" y1="1260" x2="1547" y2="1237"/><line x1="1414" y1="1260" x2="1485" y2="1273"/>
</g>
<g class="lf">
<line x1="1547" y1="1101" x2="1368" y2="1133"/><line x1="1368" y1="1133" x2="1572" y2="1169"/><line x1="1368" y1="1133" x2="1414" y2="1077"/><line x1="1485" y1="1273" x2="1547" y2="1237"/><line x1="1572" y1="1169" x2="1547" y2="1237"/><line x1="1485" y1="1273" x2="1572" y2="1169"/><line x1="1368" y1="1133" x2="1414" y2="1260"/><line x1="1368" y1="1133" x2="1485" y2="1273"/><line x1="1572" y1="1169" x2="1547" y2="1101"/>
</g>
<circle class="n" cx="1485" cy="1065" r="8"/><circle class="n" cx="1547" cy="1101" r="9"/><circle class="n" cx="1572" cy="1169" r="5"/><circle class="nb" cx="1547" cy="1237" r="15"/><circle class="n" cx="1485" cy="1273" r="8"/><circle class="n" cx="1414" cy="1260" r="9"/><circle class="n" cx="1368" cy="1205" r="5"/><circle class="n" cx="1368" cy="1133" r="8"/><circle class="nb" cx="1414" cy="1077" r="12"/>
</g>

<g id="cluster-row3-b">
<g class="le">
<line x1="1836" y1="1077" x2="1969" y2="1101"/><line x1="1836" y1="1077" x2="1993" y2="1169"/><line x1="1836" y1="1077" x2="1969" y2="1237"/><line x1="1907" y1="1065" x2="1907" y2="1273"/><line x1="1907" y1="1065" x2="1969" y2="1101"/><line x1="1907" y1="1065" x2="1993" y2="1169"/><line x1="1907" y1="1065" x2="1969" y2="1237"/><line x1="1969" y1="1101" x2="1993" y2="1169"/><line x1="1969" y1="1101" x2="1907" y2="1273"/><line x1="1969" y1="1101" x2="1969" y2="1237"/><line x1="1789" y1="1133" x2="1789" y2="1205"/><line x1="1789" y1="1133" x2="1836" y2="1260"/><line x1="1789" y1="1133" x2="1969" y2="1237"/><line x1="1789" y1="1205" x2="1836" y2="1260"/><line x1="1789" y1="1205" x2="1969" y2="1237"/><line x1="1836" y1="1260" x2="1969" y2="1237"/><line x1="1907" y1="1273" x2="1969" y2="1237"/><line x1="1993" y1="1169" x2="1969" y2="1237"/><line x1="1993" y1="1169" x2="1907" y2="1273"/>
</g>
<g class="lf">
<line x1="1836" y1="1077" x2="1907" y2="1273"/><line x1="1836" y1="1077" x2="1836" y2="1260"/><line x1="1969" y1="1101" x2="1836" y2="1260"/>
</g>
<circle class="n" cx="1907" cy="1065" r="8"/><circle class="n" cx="1969" cy="1101" r="6"/><circle class="n" cx="1993" cy="1169" r="6"/><circle class="nb" cx="1969" cy="1237" r="15"/><circle class="n" cx="1907" cy="1273" r="9"/><circle class="nb" cx="1836" cy="1260" r="10"/><circle class="n" cx="1789" cy="1205" r="6"/><circle class="n" cx="1789" cy="1133" r="6"/><circle class="n" cx="1836" cy="1077" r="8"/>
</g>

<g id="cluster-row4-a">
<g transform="translate(205,1591) rotate(8.5)">
<use href="#k9" class="edr" transform="scale(1.05)"/>
<circle class="n" cy="-105" r="6"/><circle class="n" cy="-105" r="6" transform="rotate(40)"/><circle class="nb" cy="-105" r="14" transform="rotate(80)"/><circle class="nb" cy="-105" r="10" transform="rotate(120)"/><circle class="n" cy="-105" r="8" transform="rotate(160)"/><circle class="nb" cy="-105" r="13" transform="rotate(200)"/><circle class="n" cy="-105" r="7" transform="rotate(240)"/><circle class="nb" cy="-105" r="12" transform="rotate(280)"/><circle class="n" cy="-105" r="9" transform="rotate(320)"/>
</g>
</g>

<g id="cluster-row4-b">
<g transform="translate(623,1591)">
<use href="#k8" class="edr" transform="scale(1.05)"/>
<circle class="n" cy="-105" r="6"/><circle class="n" cy="-105" r="8" transform="rotate(45)"/><circle class="n" cy="-105" r="8" transform="rotate(90)"/><circle class="n" cy="-105" r="7" transform="rotate(135)"/><circle class="n" cy="-105" r="9" transform="rotate(180)"/><circle class="n" cy="-105" r="7" transform="rotate(225)"/><circle class="n" cy="-105" r="6" transform="rotate(270)"/><circle class="n" cy="-105" r="7" transform="rotate(315)"/>
</g>
</g>

<g id="cluster-row4-c">
<g transform="translate(1045,1591)">
<use href="#k8" class="edr" transform="scale(1.05)"/>
<circle class="n" cy="-105" r="6"/><circle class="n" cy="-105" r="5" transform="rotate(45)"/><circle class="n" cy="-105" r="8" transform="rotate(90)"/><circle class="n" cy="-105" r="8" transform="rotate(135)"/><circle class="n" cy="-105" r="8" transform="rotate(180)"/><circle class="n" cy="-105" r="6" transform="rotate(225)"/><circle class="n" cy="-105" r="6" transform="rotate(270)"/><circle class="n" cy="-105" r="7" transform="rotate(315)"/>
</g>
</g>

<g id="cluster-row4-d">
<g transform="translate(1467,1591)">
<use href="#k8" class="edr" transform="scale(1.05)"/>
<circle class="nb" cy="-105" r="10"/><circle class="n" cy="-105" r="8" transform="rotate(45)"/><circle class="n" cy="-105" r="8" transform="rotate(90)"/><circle class="n" cy="-105" r="5" transform="rotate(135)"/><circle class="nb" cy="-105" r="14" transform="rotate(180)"/><circle class="nb" cy="-105" r="13" transform="rotate(225)"/><circle class="n" cy="-105" r="8" transform="rotate(270)"/><circle class="n" cy="-105" r="6" transform="rotate(315)"/>
</g>
</g>

<g id="cluster-row4-e">
<g class="le">
<line x1="1865" y1="1488" x2="1953.5" y2="1508"/><line x1="1865" y1="1488" x2="1993.6" y2="1591"/><line x1="1865" y1="1488" x2="1953.5" y2="1673"/><line x1="1865" y1="1488" x2="1865" y2="1694"/><line x1="1865" y1="1488" x2="1794" y2="1637"/><line x1="1953.5" y1="1508" x2="1993.6" y2="1591"/><line x1="1953.5" y1="1508" x2="1953.5" y2="1673"/><line x1="1953.5" y1="1508" x2="1865" y2="1694"/><line x1="1953.5" y1="1508" x2="1794" y2="1637"/><line x1="1794" y1="1545" x2="1993.6" y2="1591"/><line x1="1794" y1="1545" x2="1953.5" y2="1673"/><line x1="1794" y1="1545" x2="1865" y2="1694"/><line x1="1794" y1="1545" x2="1794" y2="1637"/><line x1="1993.6" y1="1591" x2="1953.5" y2="1673"/><line x1="1993.6" y1="1591" x2="1865" y2="1694"/><line x1="1993.6" y1="1591" x2="1794" y2="1637"/><line x1="1794" y1="1637" x2="1865" y2="1694"/><line x1="1953.5" y1="1673" x2="1865" y2="1694"/>
</g>
<g class="lf">
<line x1="1794" y1="1637" x2="1953.5" y2="1673"/><line x1="1794" y1="1545" x2="1953.5" y2="1508"/>
</g>
<circle class="n" cx="1865" cy="1488" r="9"/><circle class="n" cx="1953.5" cy="1508" r="7"/><circle class="n" cx="1794" cy="1545" r="7"/><circle class="n" cx="1993.6" cy="1591" r="8"/><circle class="n" cx="1794" cy="1637" r="6"/><circle class="nb" cx="1953.5" cy="1673" r="11"/><circle class="n" cx="1865" cy="1694" r="8"/>
</g>
</svg>
